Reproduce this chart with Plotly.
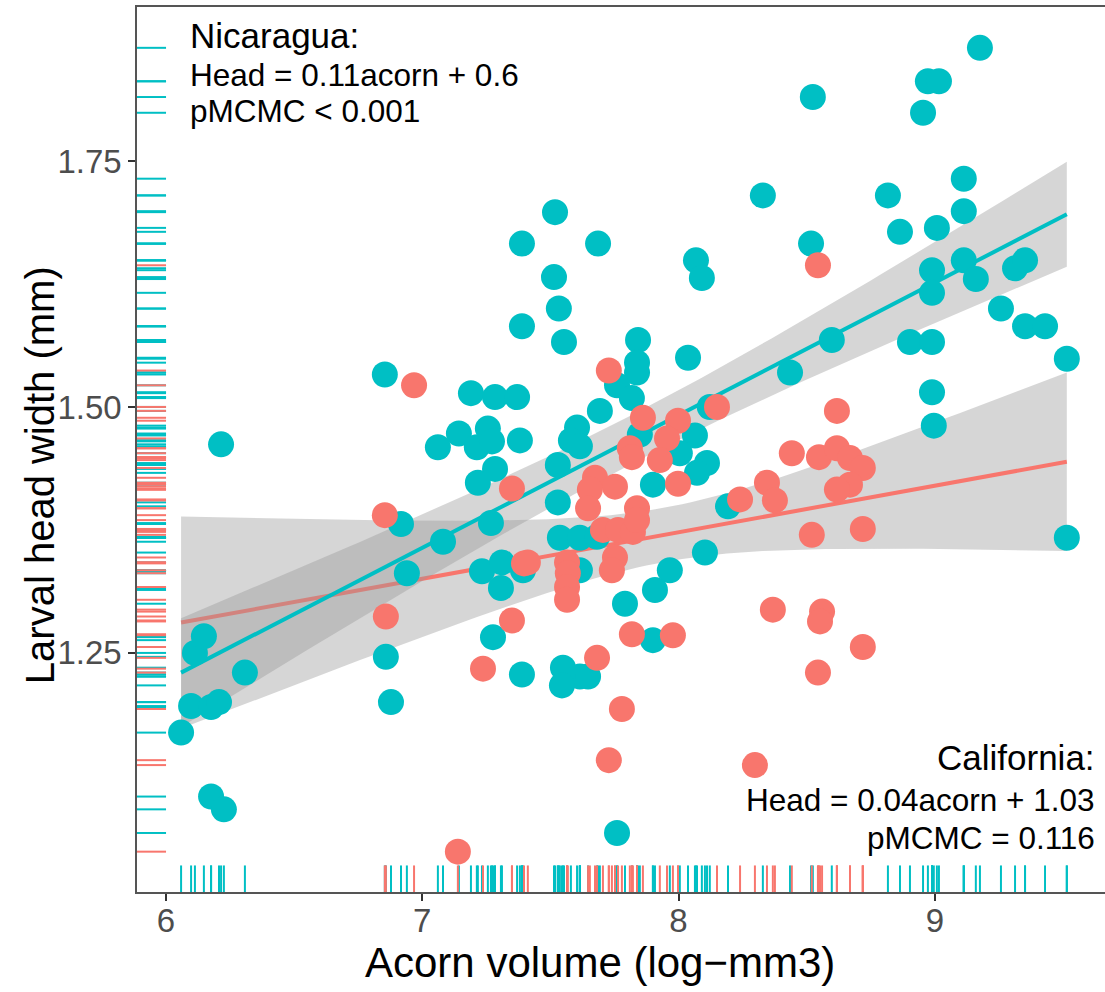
import numpy as np
import plotly.graph_objects as go

# ---- data ----
nic_acorn = [6.059, 6.113, 6.148, 6.098, 6.176, 6.207, 6.308, 6.176, 6.226, 6.215,
             6.854, 6.917, 6.940, 6.858, 6.878, 7.081, 7.061, 7.143, 7.190, 7.284,
             7.370, 7.213, 7.256, 7.272, 7.381, 7.284, 7.217, 7.268, 7.233, 7.311,
             7.307, 7.393, 7.276, 7.389, 7.518, 7.389, 7.686, 7.514, 7.533, 7.389,
             7.553, 8.329, 8.068, 8.091, 7.842, 7.838, 7.838, 7.760, 7.818, 8.037,
             7.693, 7.604, 7.580, 7.615, 8.122, 8.064, 7.849, 8.435, 8.005, 8.111,
             8.072, 7.900, 7.529, 7.529, 8.193, 7.537, 7.615, 7.682, 7.615, 8.103,
             7.966, 7.908, 7.791, 7.900, 7.549, 7.615, 7.647, 7.545, 7.760, 9.176,
             8.973, 9.016, 8.954, 8.524, 9.113, 8.817, 8.864, 9.008, 9.113, 8.517,
             8.989, 8.989, 9.113, 9.160, 9.313, 9.352, 8.598, 8.903, 8.989, 9.258,
             9.352, 9.430, 9.515, 8.989, 8.996, 9.515]
nic_head = [1.169, 1.250, 1.267, 1.196, 1.195, 1.200, 1.230, 1.104, 1.091, 1.462,
            1.533, 1.381, 1.331, 1.246, 1.200, 1.363, 1.459, 1.473, 1.514, 1.510,
            1.510, 1.459, 1.478, 1.465, 1.466, 1.437, 1.423, 1.382, 1.333, 1.342,
            1.316, 1.334, 1.266, 1.228, 1.698, 1.666, 1.666, 1.632, 1.600, 1.582,
            1.566, 1.715, 1.649, 1.631, 1.568, 1.545, 1.535, 1.522, 1.509, 1.550,
            1.496, 1.479, 1.466, 1.460, 1.500, 1.471, 1.472, 1.535, 1.453, 1.443,
            1.433, 1.421, 1.441, 1.403, 1.399, 1.367, 1.367, 1.368, 1.334, 1.352,
            1.334, 1.314, 1.300, 1.263, 1.235, 1.226, 1.226, 1.217, 1.067, 1.865,
            1.831, 1.831, 1.799, 1.815, 1.732, 1.715, 1.678, 1.682, 1.699, 1.666,
            1.639, 1.616, 1.649, 1.630, 1.641, 1.649, 1.568, 1.566, 1.566, 1.600,
            1.582, 1.582, 1.549, 1.515, 1.481, 1.367]

cal_acorn = [6.968, 6.854, 6.858, 7.350, 7.397, 7.350, 7.237, 7.728, 7.861, 7.998,
             8.150, 7.955, 7.810, 8.442, 7.818, 7.927, 7.998, 7.674, 7.752, 7.654,
             7.647, 7.838, 8.240, 8.345, 8.376, 7.705, 7.764, 7.822, 7.838, 7.412,
             7.565, 7.568, 7.565, 7.565, 7.752, 7.740, 7.818, 7.978, 8.368, 7.682,
             7.779, 7.728, 8.298, 7.139, 8.544, 8.618, 8.548, 8.618, 8.669, 8.719,
             8.669, 8.618, 8.520, 8.719, 8.560, 8.552, 8.719, 8.544]
cal_head = [1.522, 1.390, 1.287, 1.417, 1.341, 1.283, 1.234, 1.537, 1.489, 1.486,
            1.500, 1.468, 1.458, 1.453, 1.449, 1.446, 1.422, 1.428, 1.419, 1.416,
            1.397, 1.397, 1.406, 1.423, 1.405, 1.375, 1.375, 1.373, 1.385, 1.342,
            1.342, 1.331, 1.317, 1.304, 1.347, 1.334, 1.269, 1.268, 1.294, 1.245,
            1.193, 1.141, 1.136, 1.048, 1.644, 1.496, 1.449, 1.458, 1.448, 1.438,
            1.421, 1.416, 1.370, 1.376, 1.292, 1.282, 1.256, 1.230]

x_ticks = [6, 7, 8, 9]
y_ticks = [1.25, 1.50, 1.75]
y_tick_labels = ["1.25", "1.50", "1.75"]

TEAL = "#00BFC4"
SALMON = "#F8766D"
BAND = "rgba(153,153,153,0.4)"

X_RANGE = [5.887, 9.664]
Y_RANGE = [1.007, 1.9065]


def lm_band(x, y, xs, t):
    x = np.asarray(x, float)
    y = np.asarray(y, float)
    n = len(x)
    b, a = np.polyfit(x, y, 1)
    resid = y - (a + b * x)
    s = np.sqrt(np.sum(resid ** 2) / (n - 2))
    xbar = x.mean()
    sxx = np.sum((x - xbar) ** 2)
    yhat = a + b * xs
    se = s * np.sqrt(1.0 / n + (xs - xbar) ** 2 / sxx)
    return yhat, yhat - t * se, yhat + t * se


all_x = nic_acorn + cal_acorn
xs = np.linspace(min(all_x), max(all_x), 100)

fig = go.Figure()

for xd, yd, col, tq in [(cal_acorn, cal_head, SALMON, 2.0), (nic_acorn, nic_head, TEAL, 1.98)]:
    yhat, lo, hi = lm_band(xd, yd, xs, tq)
    fig.add_trace(go.Scatter(x=np.concatenate([xs, xs[::-1]]), y=np.concatenate([hi, lo[::-1]]),
                             fill="toself", fillcolor=BAND, line=dict(width=0),
                             mode="lines", hoverinfo="skip", showlegend=False))
    fig.add_trace(go.Scatter(x=xs, y=yhat, mode="lines", line=dict(color=col, width=4),
                             showlegend=False))

fig.add_trace(go.Scatter(x=nic_acorn, y=nic_head, mode="markers",
                         marker=dict(color=TEAL, size=26, line=dict(width=0)), showlegend=False))
fig.add_trace(go.Scatter(x=cal_acorn, y=cal_head, mode="markers",
                         marker=dict(color=SALMON, size=26, line=dict(width=0)), showlegend=False))

# rugs (length 3% of the panel)
y_len = 0.03 * (Y_RANGE[1] - Y_RANGE[0])
x_len = 0.03 * (X_RANGE[1] - X_RANGE[0])
for xd, yd, col in [(nic_acorn, nic_head, TEAL), (cal_acorn, cal_head, SALMON)]:
    rx, ry = [], []
    for v in xd:
        rx += [v, v, None]
        ry += [Y_RANGE[0], Y_RANGE[0] + y_len, None]
    fig.add_trace(go.Scatter(x=rx, y=ry, mode="lines", line=dict(color=col, width=2),
                             hoverinfo="skip", showlegend=False))
    rx, ry = [], []
    for v in yd:
        rx += [X_RANGE[0], X_RANGE[0] + x_len, None]
        ry += [v, v, None]
    fig.add_trace(go.Scatter(x=rx, y=ry, mode="lines", line=dict(color=col, width=2),
                             hoverinfo="skip", showlegend=False))

FONT = "Liberation Sans, Arial, sans-serif"

anns = [
    dict(text="Nicaragua:", x=0.0527, y=0.968, xanchor="left", size=35),
    dict(text="Head = 0.11acorn + 0.6", x=0.0527, y=0.923, xanchor="left", size=31.5),
    dict(text="pMCMC < 0.001", x=0.0527, y=0.8825, xanchor="left", size=31.5),
    dict(text="California:", x=0.9917, y=0.1525, xanchor="right", size=35),
    dict(text="Head = 0.04acorn + 1.03", x=0.9917, y=0.104, xanchor="right", size=31.5),
    dict(text="pMCMC = 0.116", x=0.9917, y=0.061, xanchor="right", size=31.5),
]
for a in anns:
    fig.add_annotation(text=a["text"], x=a["x"], y=a["y"], xref="paper", yref="paper",
                       xanchor=a["xanchor"], yanchor="middle", showarrow=False,
                       font=dict(family=FONT, size=a["size"], color="black"))

# axis titles
fig.add_annotation(text="Acorn volume (log−mm3)", x=0.478, y=-0.0802, xref="paper", yref="paper",
                   xanchor="center", yanchor="middle", showarrow=False,
                   font=dict(family=FONT, size=42, color="black"))
fig.add_annotation(text="Larval head width (mm)", x=-0.1002, y=0.471, xref="paper", yref="paper",
                   xanchor="center", yanchor="middle", textangle=-90, showarrow=False,
                   font=dict(family=FONT, size=40, color="black"))

fig.update_layout(
    width=1105, height=992,
    margin=dict(l=137, r=0, t=7, b=100),
    paper_bgcolor="white", plot_bgcolor="white",
    font=dict(family=FONT),
    xaxis=dict(range=X_RANGE, tickvals=x_ticks, ticks="outside", ticklen=7, tickwidth=2,
               tickcolor="#333333", showline=True, linecolor="#555555", linewidth=1.5,
               mirror=True, showgrid=False, zeroline=False, ticklabelstandoff=-8,
               tickfont=dict(size=33, color="#4D4D4D", family=FONT)),
    yaxis=dict(range=Y_RANGE, tickvals=y_ticks, ticktext=y_tick_labels, ticks="outside",
               ticklen=7, tickwidth=2, tickcolor="#333333", showline=True,
               linecolor="#555555", linewidth=1.5, showgrid=False, zeroline=False,
               tickfont=dict(size=33, color="#4D4D4D", family=FONT)),
)

fig.write_html("out.html")
